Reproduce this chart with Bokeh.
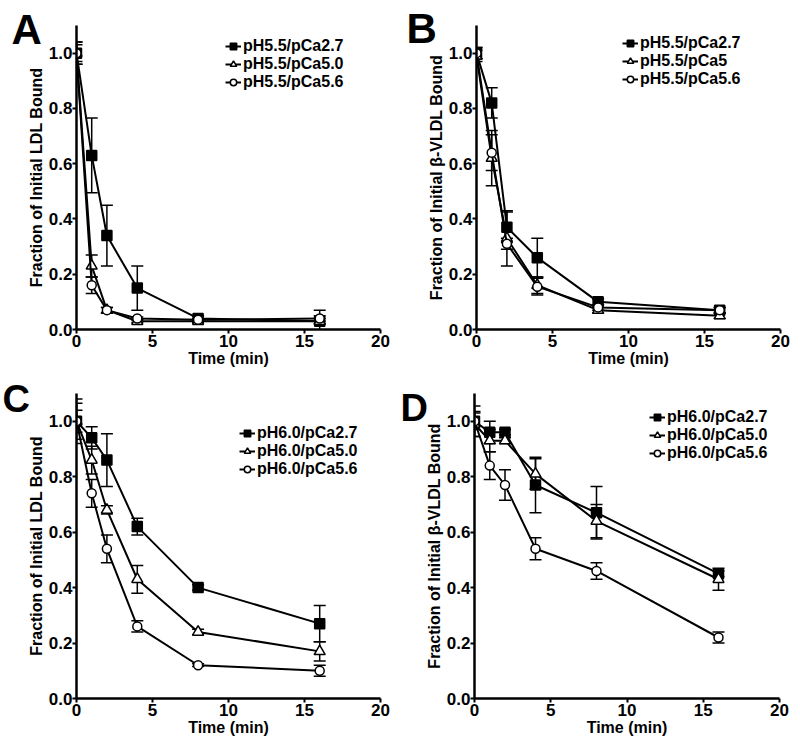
from bokeh.plotting import figure
from bokeh.models import (ColumnDataSource, Whisker, TeeHead, Legend, LegendItem,
                          Title, Range1d, FixedTicker, NumeralTickFormatter)
from bokeh.layouts import column, row
from bokeh.embed import file_html
from bokeh.resources import INLINE

FONT = "Liberation Sans"

times = [0, 1, 2, 4, 8, 16]
x_ticks = [0, 5, 10, 15, 20]
y_ticks = [0.0, 0.2, 0.4, 0.6, 0.8, 1.0]

# Panel A: LDL, pH 5.5
a_labels = ["pH5.5/pCa2.7", "pH5.5/pCa5.0", "pH5.5/pCa5.6"]
a_ca27 = [1.00, 0.63, 0.34, 0.15, 0.04, 0.03]
a_ca27_err = [0.04, 0.135, 0.11, 0.08, 0.01, 0.04]
a_ca50 = [1.00, 0.23, 0.07, 0.03, 0.03, 0.03]
a_ca50_err = [0.04, 0.04, 0.01, 0.005, 0.005, 0.01]
a_ca56 = [1.00, 0.16, 0.07, 0.04, 0.035, 0.04]
a_ca56_err = [0.03, 0.03, 0.01, 0.005, 0.005, 0.01]

# Panel B: beta-VLDL, pH 5.5
b_labels = ["pH5.5/pCa2.7", "pH5.5/pCa5", "pH5.5/pCa5.6"]
b_ca27 = [1.00, 0.82, 0.37, 0.26, 0.10, 0.07]
b_ca27_err = [0.02, 0.055, 0.055, 0.07, 0.01, 0.01]
b_ca50 = [0.99, 0.62, 0.33, 0.16, 0.07, 0.05]
b_ca50_err = [0.02, 0.10, 0.10, 0.03, 0.01, 0.01]
b_ca56 = [1.00, 0.64, 0.31, 0.155, 0.08, 0.07]
b_ca56_err = [0.02, 0.065, 0.02, 0.03, 0.01, 0.01]

# Panel C: LDL, pH 6.0
c_labels = ["pH6.0/pCa2.7", "pH6.0/pCa5.0", "pH6.0/pCa5.6"]
c_ca27 = [1.00, 0.94, 0.86, 0.62, 0.40, 0.27]
c_ca27_err = [0.08, 0.04, 0.095, 0.03, 0.01, 0.065]
c_ca50 = [1.00, 0.86, 0.68, 0.43, 0.24, 0.17]
c_ca50_err = [0.065, 0.05, 0.015, 0.05, 0.01, 0.035]
c_ca56 = [1.00, 0.74, 0.54, 0.26, 0.12, 0.10]
c_ca56_err = [0.04, 0.05, 0.05, 0.02, 0.005, 0.02]

# Panel D: beta-VLDL, pH 6.0
d_labels = ["pH6.0/pCa2.7", "pH6.0/pCa5.0", "pH6.0/pCa5.6"]
d_ca27 = [1.00, 0.96, 0.96, 0.77, 0.67, 0.45]
d_ca27_err = [0.055, 0.04, 0.01, 0.10, 0.095, 0.01]
d_ca50 = [0.99, 0.93, 0.93, 0.81, 0.64, 0.43]
d_ca50_err = [0.045, 0.04, 0.01, 0.055, 0.06, 0.04]
d_ca56 = [1.00, 0.84, 0.77, 0.54, 0.46, 0.22]
d_ca56_err = [0.03, 0.05, 0.055, 0.04, 0.03, 0.02]

MARKERS = [("square", "black", 10), ("triangle", "white", 11), ("circle", "white", 9)]


def make_panel(letter, ylabel, labels, vals, errs, size, borders, legend_loc,
               letter_offset, letter_standoff, letter_size):
    left, right, top, bottom = borders
    p = figure(width=size[0], height=size[1], output_backend="svg",
               toolbar_location=None,
               x_range=Range1d(0, 20), y_range=Range1d(0, 1.1),
               min_border_left=left, min_border_right=right,
               min_border_top=top, min_border_bottom=bottom)
    p.outline_line_color = None
    p.xgrid.grid_line_color = None
    p.ygrid.grid_line_color = None
    p.background_fill_color = "white"
    p.border_fill_color = "white"

    p.xaxis.ticker = FixedTicker(ticks=x_ticks)
    p.yaxis.ticker = FixedTicker(ticks=y_ticks)
    p.yaxis.formatter = NumeralTickFormatter(format="0.0")
    p.xaxis.axis_label = "Time (min)"
    p.yaxis.axis_label = ylabel
    for ax in (p.xaxis, p.yaxis):
        ax.axis_line_width = 2.5
        ax.axis_line_color = "black"
        ax.major_tick_line_width = 2
        ax.major_tick_line_color = "black"
        ax.major_tick_out = 4
        ax.major_tick_in = 0
        ax.minor_tick_line_color = None
        ax.major_label_text_font = FONT
        ax.major_label_text_font_style = "bold"
        ax.major_label_text_font_size = "17px"
        ax.major_label_text_color = "black"
        ax.axis_label_text_font = FONT
        ax.axis_label_text_font_style = "bold"
        ax.axis_label_text_font_size = "16px"
        ax.axis_label_text_color = "black"
    p.yaxis.major_label_standoff = 0
    p.yaxis.axis_label_standoff = 1
    p.xaxis.major_label_standoff = 1
    p.xaxis.axis_label_standoff = 0

    items = []
    for lab, v, e, (mk, fill, sz) in zip(labels, vals, errs, MARKERS):
        src = ColumnDataSource(dict(
            x=times, y=v,
            upper=[yy + ee for yy, ee in zip(v, e)],
            lower=[yy - ee for yy, ee in zip(v, e)]))
        w = Whisker(source=src, base="x", upper="upper", lower="lower",
                    line_color="black", line_width=1.5,
                    upper_head=TeeHead(size=12, line_width=1.5, line_color="black"),
                    lower_head=TeeHead(size=12, line_width=1.5, line_color="black"))
        p.add_layout(w)
        lr = p.line("x", "y", source=src, line_width=2, line_color="black")
        sr = p.scatter("x", "y", source=src, marker=mk, size=sz,
                       fill_color=fill, line_color="black", line_width=1.5)
        items.append(LegendItem(label=lab, renderers=[lr, sr]))

    legend = Legend(items=items, location=legend_loc, glyph_width=16,
                    glyph_height=18, label_height=18, spacing=0, padding=0,
                    margin=0, border_line_color=None, background_fill_alpha=0,
                    label_text_font=FONT, label_text_font_size="16px",
                    label_text_font_style="bold", label_standoff=2,
                    label_text_color="black")
    p.add_layout(legend)

    p.add_layout(Title(text=letter, text_font=FONT, text_font_style="bold",
                       text_font_size=letter_size, text_color="black",
                       align="left", offset=letter_offset,
                       standoff=letter_standoff), "above")
    return p


pa = make_panel("A", "Fraction of Initial LDL Bound", a_labels,
                [a_ca27, a_ca50, a_ca56], [a_ca27_err, a_ca50_err, a_ca56_err],
                (400, 374), (76, 20, 25, 45), (149, 238), -65, -54, "42px")
pb = make_panel("B", "Fraction of Initial β-VLDL Bound", b_labels,
                [b_ca27, b_ca50, b_ca56], [b_ca27_err, b_ca50_err, b_ca56_err],
                (398, 374), (76, 18, 25, 45), (146, 241), -70, -52, "42px")
pc = make_panel("C", "Fraction of Initial LDL Bound", c_labels,
                [c_ca27, c_ca50, c_ca56], [c_ca27_err, c_ca50_err, c_ca56_err],
                (400, 372), (76, 20, 19, 48), (163, 220), -74, -52, "38px")
pd = make_panel("D", "Fraction of Initial β-VLDL Bound", d_labels,
                [d_ca27, d_ca50, d_ca56], [d_ca27_err, d_ca50_err, d_ca56_err],
                (398, 372), (74, 19, 19, 48), (175, 236), -74, -70, "38px")

layout = column(row(pa, pb), row(pc, pd))

open("out.html", "w").write(file_html(layout, INLINE))
